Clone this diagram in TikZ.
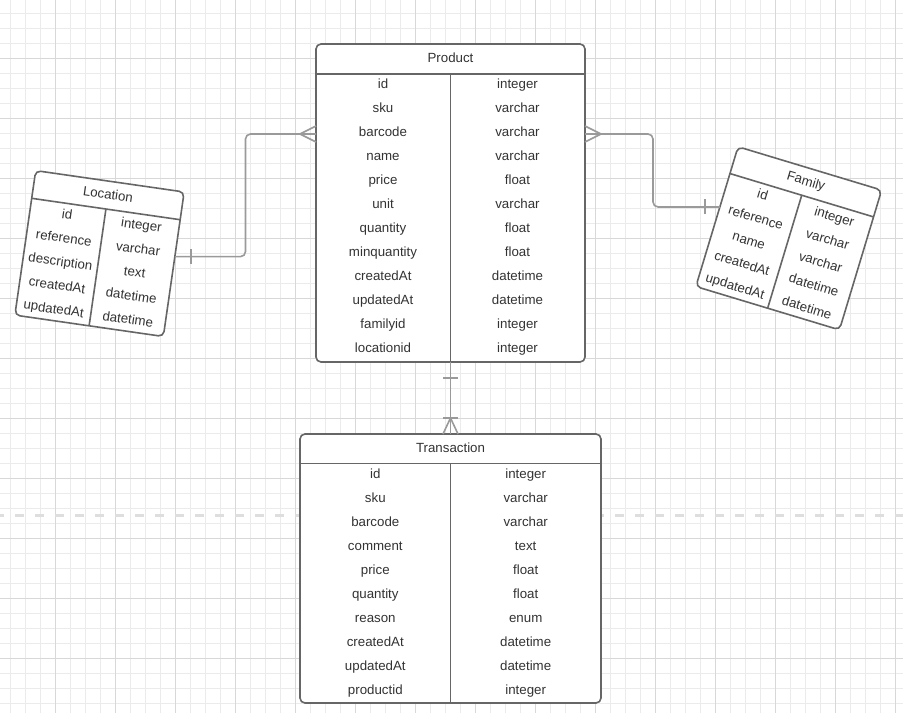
\documentclass[tikz,border=0pt]{standalone}
\usepackage{fontspec}
\setmainfont{Liberation Sans}
\usetikzlibrary{positioning}
\definecolor{gridminor}{HTML}{EBEBEB}
\definecolor{gridmajor}{HTML}{D8D8D8}
\definecolor{tblline}{HTML}{666666}
\definecolor{linkline}{HTML}{9A9A9A}
\definecolor{txt}{HTML}{333333}
\definecolor{guide}{HTML}{DEDEDE}

\begin{document}
\begin{tikzpicture}[x=1pt, y=-1pt]
        \tikzstyle{tbl}=[draw=tblline, line width=1.6pt, fill=white, rounded corners=5pt, inner sep=0pt, outer sep=0pt]
        \tikzstyle{sep}=[draw=tblline, line width=1.6pt]
        \tikzstyle{field}=[text=txt, font=\fontsize{13.3}{16}\selectfont, inner sep=0pt, text height=9.5pt, text depth=2.5pt]
        \tikzstyle{link}=[draw=linkline, line width=1.6pt]

        \useasboundingbox (0,0) rectangle (903,713);

        % background grid
        \foreach \k in {0,...,59} \draw[gridminor, line width=1pt] (10.7+15*\k,0) -- ++(0,713);
        \foreach \k in {0,...,46} \draw[gridminor, line width=1pt] (0,13.3+15*\k) -- ++(903,0);
        \foreach \k in {0,...,14} \draw[gridmajor, line width=1.2pt] (55.7+60*\k,0) -- ++(0,713);
        \foreach \k in {0,...,10} \draw[gridmajor, line width=1.2pt] (0,58.3+60*\k) -- ++(903,0);
        \draw[guide, line width=3pt, dash pattern=on 9.3pt off 10.7pt, dash phase=5pt] (0,515) -- (903,515);

        % Product
        \node[tbl, minimum width=269pt, minimum height=318pt] (product) at (450.5,203) {};
        \draw[sep] ([yshift=-30pt]product.north west) -- ([yshift=-30pt]product.north east);
        \draw[sep] ([yshift=-30pt]product.north) -- (product.south);
        \node[field] (prod-title) at (450.5,59) {Product};
        \foreach \a/\b [count=\i] in {id/integer, sku/varchar, barcode/varchar, name/varchar, price/float, unit/varchar, quantity/float, minquantity/float, createdAt/datetime, updatedAt/datetime, familyid/integer, locationid/integer}
        {
            \node[field] (prod-n\i) at (383,61+24*\i) {\a};
            \node[field] (prod-t\i) at (517.5,61+24*\i) {\b};
        }

        % Transaction
        \node[tbl, minimum width=301pt, minimum height=269pt] (transaction) at (450.5,568.5) {};
        \draw[sep] ([yshift=-29.5pt]transaction.north west) -- ([yshift=-29.5pt]transaction.north east);
        \draw[sep] ([yshift=-29.5pt]transaction.north) -- (transaction.south);
        \node[field] (trans-title) at (450.5,449) {Transaction};
        \foreach \a/\b [count=\i] in {id/integer, sku/varchar, barcode/varchar, comment/text, price/float, quantity/float, reason/enum, createdAt/datetime, updatedAt/datetime, productid/integer}
        {
            \node[field] (trans-n\i) at (375.3,451+24*\i) {\a};
            \node[field] (trans-t\i) at (525.7,451+24*\i) {\b};
        }

        % Location
        \begin{scope}[shift={(35.7,170.6)}, rotate=-8.2, transform shape]
            \node[tbl, minimum width=150pt, minimum height=146pt] (location) at (75,73) {};
            \draw[sep] (0,28) -- (150,28);
            \draw[sep] (75,28) -- (75,146);
            \node[field] (loc-title) at (75,14) {Location};
            \foreach \a/\b [count=\i] in {id/integer, reference/varchar, description/text, createdAt/datetime, updatedAt/datetime}
            {
                \node[field] (loc-n\i) at (37.5,16.2+23.8*\i) {\a};
                \node[field] (loc-t\i) at (112.5,16.2+23.8*\i) {\b};
            }
            \coordinate (loc-link) at (150,65.3);
        \end{scope}

        % Family
        \begin{scope}[shift={(738.05,146.75)}, rotate=-16.8, transform shape]
            \node[tbl, minimum width=150pt, minimum height=146pt] (family) at (75,73) {};
            \draw[sep] (0,28) -- (150,28);
            \draw[sep] (75,28) -- (75,146);
            \node[field] (fam-title) at (75,14) {Family};
            \foreach \a/\b [count=\i] in {id/integer, reference/varchar, name/varchar, createdAt/datetime, updatedAt/datetime}
            {
                \node[field] (fam-n\i) at (37.5,16.2+23.8*\i) {\a};
                \node[field] (fam-t\i) at (112.5,16.2+23.8*\i) {\b};
            }
            \coordinate (fam-link) at (0,62.9);
        \end{scope}

        % relations
        \coordinate (prod-loc) at ([yshift=-90pt]product.north west);
        \coordinate (prod-fam) at ([yshift=-90pt]product.north east);

        \draw[link, rounded corners=5pt] (prod-loc) -- ++(-70.5,0) |- (loc-link);
        \draw[link] (prod-loc) ++(0,-8) -- ++(-16,8) -- ++(16,8);
        \draw[link] (loc-link) ++(16,-7.5) -- ++(0,15);

        \draw[link, rounded corners=5pt] (prod-fam) -- ++(68,0) |- (fam-link);
        \draw[link] (prod-fam) ++(0,-8) -- ++(16,8) -- ++(-16,8);
        \draw[link] (fam-link) ++(-15,-7.5) -- ++(0,15);

        \draw[link] (product.south) -- (transaction.north);
        \draw[link] ([yshift=-16pt]product.south) ++(-7.5,0) -- ++(15,0);
        \draw[link] (transaction.north) ++(-7.5,-16) -- ++(15,0);
        \draw[link] (transaction.north) ++(-7.5,0) -- ++(7.5,-16) -- ++(7.5,16);
\end{tikzpicture}
\end{document}
